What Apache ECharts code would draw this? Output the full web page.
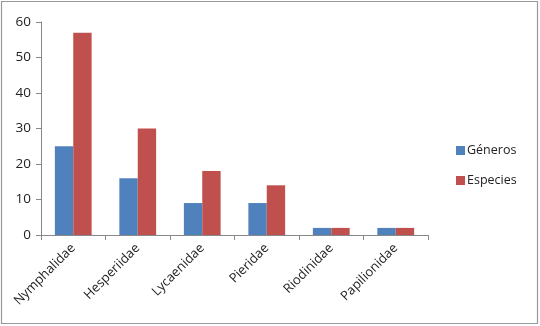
<!DOCTYPE html>
<html><head><meta charset="utf-8">
<script src="https://cdn.jsdelivr.net/npm/echarts@6/dist/echarts.min.js"></script>
<style>html,body{margin:0;padding:0;background:#fff}#c{width:540px;height:326px}</style>
</head><body><div id="c"></div>
<script>
const categories = ['Nymphalidae','Hesperiidae','Lycaenidae','Pieridae','Riodinidae','Papilionidae'];
const generos = [25, 16, 9, 9, 2, 2];
const especies = [57, 30, 18, 14, 2, 2];
const yTicks = [0, 10, 20, 30, 40, 50, 60];

const FONT = 'Open Sans';
const chart = echarts.init(document.getElementById('c'), null, {renderer: 'canvas'});
chart.setOption({
  animation: false,
  backgroundColor: '#fff',
  textStyle: {fontFamily: FONT},
  graphic: [{
    type: 'rect', shape: {x: 1.5, y: 1.5, width: 536, height: 322},
    style: {fill: 'none', stroke: '#999', lineWidth: 1.2}, silent: true
  }],
  grid: {left: 41, top: 22, right: 112, bottom: 91},
  legend: {
    orient: 'vertical', left: 451, top: 139, itemWidth: 9, itemHeight: 9, itemGap: 17,
    icon: 'rect',
    textStyle: {fontFamily: FONT, fontSize: 12.5, color: '#222', padding: [0,0,0,-3]},
    data: ['Géneros','Especies']
  },
  xAxis: {
    type: 'category', data: categories,
    axisLine: {lineStyle: {color: '#888', width: 1}},
    axisTick: {show: true, length: 5, lineStyle: {color: '#888'}},
    axisLabel: {rotate: 45, fontFamily: FONT, fontSize: 13, color: '#222', margin: 11, interval: 0}
  },
  yAxis: {
    type: 'value', min: yTicks[0], max: yTicks[yTicks.length-1], interval: 10,
    axisLine: {show: true, lineStyle: {color: '#888', width: 1}},
    axisTick: {show: true, length: 5, lineStyle: {color: '#888'}},
    splitLine: {show: false},
    axisLabel: {fontFamily: FONT, fontSize: 13.5, color: '#222', margin: 10}
  },
  series: [
    {name: 'Géneros', type: 'bar', data: generos, itemStyle: {color: '#4F81BD'}, barGap: 0, barCategoryGap: '43%'},
    {name: 'Especies', type: 'bar', data: especies, itemStyle: {color: '#C0504D'}, barGap: 0, barCategoryGap: '43%'}
  ]
});
</script></body></html>
